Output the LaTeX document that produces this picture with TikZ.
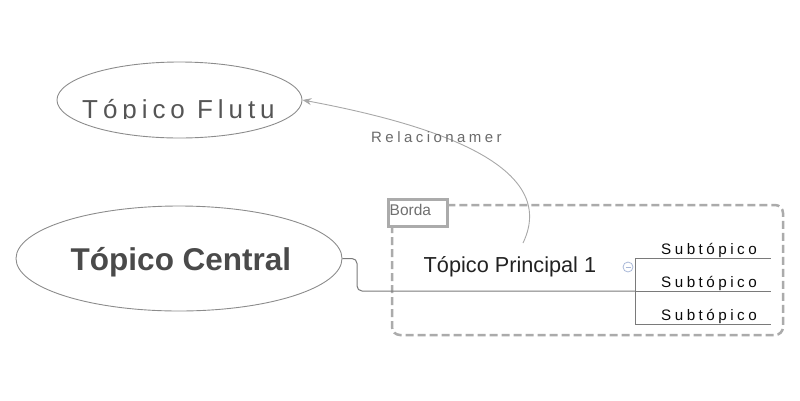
\documentclass[tikz,border=0pt]{standalone}
\usepackage{fontspec}
\setmainfont{Liberation Sans}
\newfontfamily\spacedfont[LetterSpace=23]{Liberation Sans}
\newfontfamily\flutfont[LetterSpace=19]{Liberation Sans}
\usetikzlibrary{arrows.meta,shapes.geometric}
\definecolor{ellgray}{HTML}{8C8C8C}
\definecolor{linegray}{HTML}{7A7A7A}
\definecolor{dashgray}{HTML}{ABABAB}
\definecolor{relgray}{HTML}{A8A8A8}
\definecolor{txtcentral}{HTML}{4A4A4A}
\definecolor{txtflut}{HTML}{555555}
\definecolor{txtmain}{HTML}{222222}
\definecolor{txtsub}{HTML}{0A0A0A}
\definecolor{txtborda}{HTML}{707070}
\definecolor{txtrel}{HTML}{6A6A6A}
\definecolor{collapse}{HTML}{A9B8D8}
\tikzset{
  topicell/.style={ellipse,draw=ellgray,line width=0.9pt,inner sep=0pt},
  conn/.style={draw=linegray,line width=1pt},
  subtxt/.style={anchor=base west,inner sep=0pt,text=txtsub,font=\spacedfont\fontsize{15.2}{18}\selectfont},
}
\begin{document}
\begin{tikzpicture}[x=1pt,y=-1pt]
\useasboundingbox (0,0) rectangle (800,400);
% boundary
\draw[dashgray,line width=2.5pt,dash pattern=on 8pt off 4pt,rounded corners=8pt]
  (392,205) rectangle (783,335);
\node[draw=dashgray,line width=3pt,fill=white,minimum width=59pt,minimum height=27pt,inner sep=0pt,anchor=north west] (bordabox) at (386.5,197.5) {};
\node[anchor=base west,inner sep=0pt,text=txtborda,font=\fontsize{15.5}{18}\selectfont] (borda) at (389.5,215) {Borda};
% central topic
\node[topicell,minimum width=326pt,minimum height=105pt] (central) at (179,258.5) {};
\node[anchor=base,inner sep=0pt,text=txtcentral,font=\bfseries\fontsize{31.5}{36}\selectfont] (centraltxt) at (181,270) {Tópico Central};
% floating topic
\node[topicell,minimum width=245pt,minimum height=76pt] (flut) at (179.5,100) {};
\begin{scope}
\clip (60,60) rectangle (300,118);
\node[anchor=base west,inner sep=0pt,text=txtflut,font=\flutfont\fontsize{26}{30}\selectfont] (fluttxt) at (82,118.6) {Tópico Flutu};
\end{scope}
% main topic
\node[anchor=base west,inner sep=0pt,text=txtmain,font=\fontsize{21.7}{25}\selectfont] (main) at (423.5,272) {Tópico Principal 1};
\node[circle,draw=collapse,line width=0.8pt,minimum size=10pt,inner sep=0pt] (coll) at (628,267) {};
\draw[collapse,line width=0.8pt] ([xshift=-2.5pt]coll.center) -- ([xshift=2.5pt]coll.center);
% connector central -> main
\coordinate (bus) at (635,291);
\draw[conn,rounded corners=5pt] (central.east) -- (357,258.5) -- (357,291) -- (bus);
% subtopics
\coordinate (btop) at (635,258);
\coordinate (bbot) at (635,324);
\draw[conn] (btop) -- (bbot);
\node[subtxt] (s1) at (661,254) {Subtópico};
\node[subtxt] (s2) at (661,287) {Subtópico};
\node[subtxt] (s3) at (661,320) {Subtópico};
\coordinate (e1) at (771,258);
\coordinate (e2) at (771,291);
\coordinate (e3) at (771,324);
\draw[conn] (btop) -- (e1);
\draw[conn] (bus) -- (e2);
\draw[conn] (bbot) -- (e3);
% relationship
\coordinate (relstart) at (523,243);
\draw[relgray,line width=0.9pt,-{Stealth[length=9pt,width=7pt]}] (relstart) .. controls (562,162) and (420,122) .. (flut.east);
\node[anchor=base west,inner sep=0pt,text=txtrel,font=\spacedfont\fontsize{15}{18}\selectfont] (rel) at (371,142) {Relacionamer};
\end{tikzpicture}
\end{document}
